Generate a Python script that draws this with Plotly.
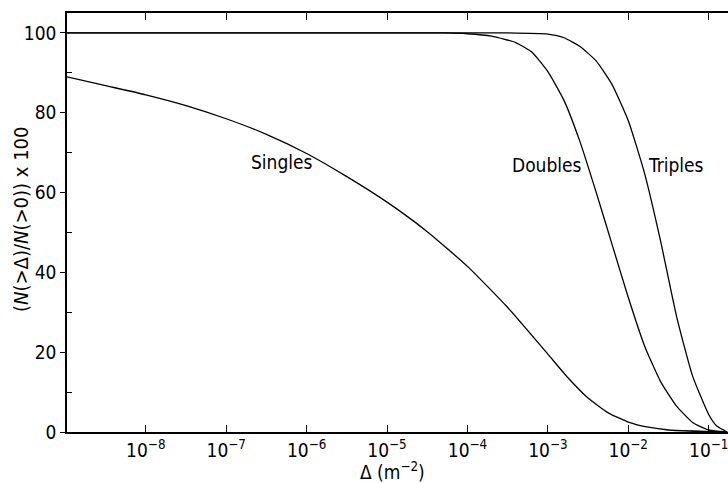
import plotly.graph_objects as go

# Cumulative fraction of events with separation greater than Δ, per multiplicity
singles_logx = [-8.98, -8.5, -8.0, -7.5, -7.0, -6.5, -6.0, -5.5, -5.0, -4.5, -4.0,
                -3.5, -3.0, -2.75, -2.5, -2.25, -2.0, -1.75, -1.5, -1.0, -0.77]
singles_y = [89.0, 86.8, 84.5, 81.8, 78.5, 74.6, 69.8, 64.0, 57.6, 50.2, 41.5,
             31.2, 19.5, 13.6, 8.5, 4.8, 2.5, 1.2, 0.5, 0.1, 0.0]

doubles_logx = [-8.98, -7.0, -5.0, -4.3, -4.0, -3.7, -3.4, -3.2, -3.0, -2.8, -2.6,
                -2.4, -2.2, -2.0, -1.8, -1.6, -1.4, -1.2, -1.0, -0.77]
doubles_y = [100.0, 100.0, 100.0, 100.0, 99.8, 99.2, 97.6, 95.2, 90.3, 83.1, 72.7,
             60.1, 46.9, 33.7, 21.7, 12.7, 6.5, 2.4, 0.5, 0.0]

triples_logx = [-8.98, -7.0, -5.0, -3.5, -3.0, -2.8, -2.6, -2.4, -2.2, -2.0, -1.8,
                -1.6, -1.4, -1.2, -1.0, -0.9, -0.77]
triples_y = [100.0, 100.0, 100.0, 100.0, 99.7, 98.8, 96.6, 93.0, 87.0, 78.0, 65.0,
             48.0, 29.0, 14.0, 4.4, 1.5, 0.0]

tick_exponents = [-8, -7, -6, -5, -4, -3, -2, -1]
curve_labels = ["Singles", "Doubles", "Triples"]
label_logx = [-6.31, -3.01, -1.41]
label_y = [67.7, 67.0, 67.0]

FONT = "Liberation Sans Narrow, DejaVu Sans Condensed, Arial Narrow, sans-serif"

fig = go.Figure()
for lx, yy in [(singles_logx, singles_y), (doubles_logx, doubles_y), (triples_logx, triples_y)]:
    fig.add_trace(go.Scatter(
        x=[10 ** v for v in lx], y=yy, mode="lines",
        line=dict(color="black", width=1.3, shape="spline", smoothing=0.5),
        showlegend=False, hoverinfo="skip",
    ))

for name, lx, ly in zip(curve_labels, label_logx, label_y):
    fig.add_annotation(x=lx, y=ly, xref="x", yref="y", text=name, showarrow=False,
                       font=dict(family=FONT, size=19, color="black"))

fig.add_annotation(x=0, xshift=-46, y=0.506, xref="paper", yref="paper",
                   xanchor="center", yanchor="middle",
                   text="(<i>N</i>(>Δ)/<i>N</i>(>0)) x 100", textangle=-90,
                   showarrow=False, font=dict(family=FONT, size=20, color="black"))
fig.add_annotation(x=0.493, y=0, yshift=-39, xref="paper", yref="paper",
                   xanchor="center", yanchor="middle",
                   text="Δ (m<sup>−2</sup>)", showarrow=False,
                   font=dict(family=FONT, size=19, color="black"))

fig.update_xaxes(
    type="log", range=[-8.98, -0.76],
    tickvals=[10 ** e for e in tick_exponents],
    ticktext=[f"10<sup>−{-e}</sup>" for e in tick_exponents],
    ticks="inside", ticklen=7, tickwidth=1.2, tickcolor="black",
    ticklabeloverflow="allow",
    showline=True, linecolor="black", linewidth=1.6, mirror="ticks",
    showgrid=False, zeroline=False,
    tickfont=dict(family=FONT, size=19, color="black"),
)
fig.update_yaxes(
    range=[0, 105], tickvals=[0, 20, 40, 60, 80, 100],
    ticks="outside", ticklen=5, tickwidth=1.2, tickcolor="black",
    minor=dict(tickvals=[10, 30, 50, 70, 90], ticks="inside", ticklen=5,
               tickcolor="black", tickwidth=1.2),
    showline=True, linecolor="black", linewidth=1.6,
    showgrid=False, zeroline=False,
    tickfont=dict(family=FONT, size=19, color="black"),
)
fig.update_layout(
    width=728, height=483,
    margin=dict(l=67, r=0, t=13, b=51),
    paper_bgcolor="white", plot_bgcolor="white",
)
fig.write_html("out.html")
